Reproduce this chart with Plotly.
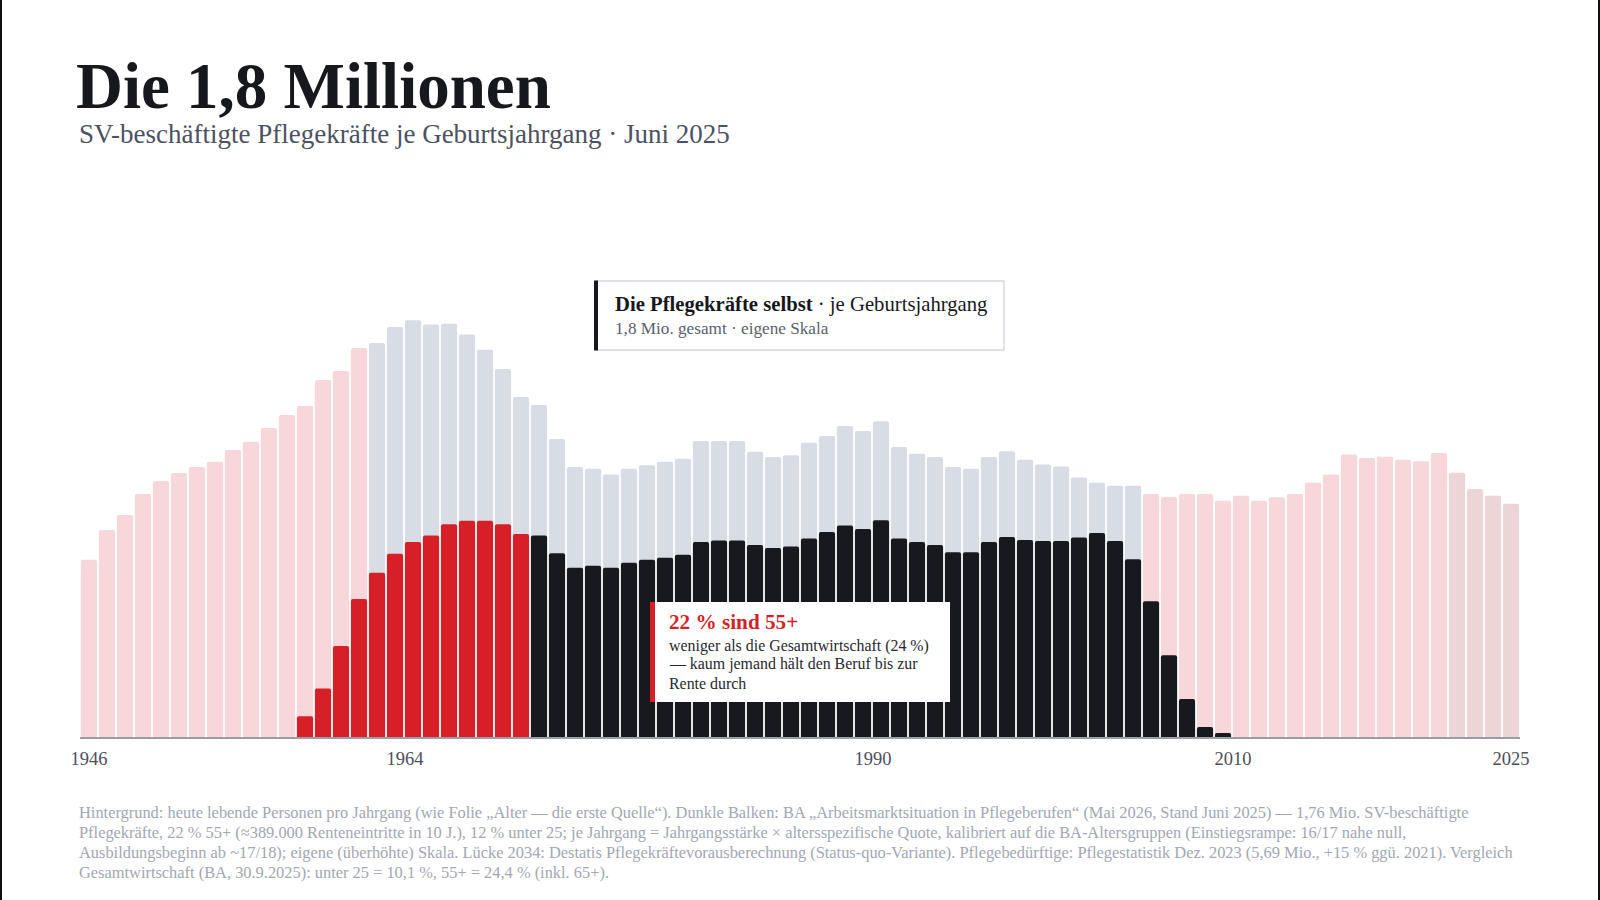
import plotly.graph_objects as go

# ---------------- data ----------------
years = list(range(1946, 2026))
# today living persons per birth cohort (thousands)
population_k = [585, 683, 733, 802, 845, 871, 891, 908, 947, 974,
                1020, 1063, 1092, 1178, 1208, 1284, 1300, 1353, 1375, 1361,
                1364, 1328, 1278, 1214, 1122, 1096, 983, 891, 885, 866,
                885, 897, 908, 918, 977, 977, 977, 941, 924, 930,
                971, 993, 1026, 1010, 1042, 957, 935, 924, 891, 885,
                924, 943, 915, 899, 893, 856, 839, 829, 829, 802,
                792, 802, 802, 780, 796, 780, 791, 802, 839, 866,
                932, 921, 925, 915, 910, 937, 872, 818, 796, 770]
# SV-employed nurses per birth cohort (thousands, own scale)
nurse_years = list(range(1958, 2010))
nurses_k = [4.1, 9.6, 18.0, 27.3, 32.5, 36.3, 38.6, 39.9, 42.1, 42.8,
            42.8, 42.1, 40.2, 39.9, 36.4, 33.5, 33.9, 33.5, 34.5, 35.1,
            35.5, 36.1, 38.6, 38.9, 38.9, 38.0, 37.4, 37.7, 39.3, 40.6,
            41.9, 41.2, 42.9, 39.3, 38.6, 38.0, 36.6, 36.6, 38.6, 39.6,
            39.0, 38.8, 38.8, 39.5, 40.4, 38.8, 35.2, 26.9, 16.2, 7.5,
            2.0, 0.8]
age55_last_year = 1970          # born <= 1970 -> 55+
workforce_band = (1962, 2004)   # highlighted cohorts in background
recent_band_start = 2022
tick_years = [1946, 1964, 1990, 2010, 2025]
tick_labels = ["1946", "1964", "1990", "2010", "2025"]

title = "Die 1,8 Millionen"
subtitle = "SV-beschäftigte Pflegekräfte je Geburtsjahrgang · Juni 2025"
legend_l1 = "<b>Die Pflegekräfte selbst</b> · je Geburtsjahrgang"
legend_l2 = "1,8 Mio. gesamt · eigene Skala"
call_title = "22 % sind 55+"
call_lines = ["weniger als die Gesamtwirtschaft (24 %)",
              "— kaum jemand hält den Beruf bis zur",
              "Rente durch"]
foot_lines = [
    "Hintergrund: heute lebende Personen pro Jahrgang (wie Folie „Alter — die erste Quelle“). Dunkle Balken: BA „Arbeitsmarktsituation in Pflegeberufen“ (Mai 2026, Stand Juni 2025) — 1,76 Mio. SV-beschäftigte",
    "Pflegekräfte, 22 % 55+ (≈389.000 Renteneintritte in 10 J.), 12 % unter 25; je Jahrgang = Jahrgangsstärke × altersspezifische Quote, kalibriert auf die BA-Altersgruppen (Einstiegsrampe: 16/17 nahe null,",
    "Ausbildungsbeginn ab ~17/18); eigene (überhöhte) Skala. Lücke 2034: Destatis Pflegekräftevorausberechnung (Status-quo-Variante). Pflegebedürftige: Pflegestatistik Dez. 2023 (5,69 Mio., +15 % ggü. 2021). Vergleich",
    "Gesamtwirtschaft (BA, 30.9.2025): unter 25 = 10,1 %, 55+ = 24,4 % (inkl. 65+).",
]

# ---------------- style ----------------
FONT = "Liberation Serif, DejaVu Serif, serif"
PINK = "#f7d7da"
GREY = "#d7dce5"
PINK_RECENT = "#ecd5d7"
RED = "#d71f28"
BLACK = "#18191e"
INK = "#16181d"

W, H = 1600, 900
L, R, T, B = 80, 1520, 300, 737
PX_PER_K_BG = 1 / 3.3
PX_PER_K_FG = 1 / 0.198


def px(x):
    return (x - L) / (R - L)


def py(y):
    return (B - y) / (B - T)


bg_colors = []
for yr in years:
    if workforce_band[0] <= yr <= workforce_band[1]:
        bg_colors.append(GREY)
    elif yr >= recent_band_start:
        bg_colors.append(PINK_RECENT)
    else:
        bg_colors.append(PINK)
fg_colors = [RED if yr <= age55_last_year else BLACK for yr in nurse_years]

fig = go.Figure()
fig.add_trace(go.Bar(x=years, y=population_k, marker=dict(color=bg_colors, line=dict(width=0), cornerradius=2),
                     width=0.9, yaxis="y", hoverinfo="x+y", name="Bevölkerung"))
fig.add_trace(go.Bar(x=nurse_years, y=nurses_k, marker=dict(color=fg_colors, line=dict(width=0), cornerradius=2),
                     width=0.9, yaxis="y2", hoverinfo="x+y", name="Pflegekräfte"))

plot_h = B - T
fig.update_layout(
    width=W, height=H,
    margin=dict(l=L, r=W - R, t=T, b=H - B, pad=0),
    paper_bgcolor="white", plot_bgcolor="white",
    barmode="overlay", showlegend=False,
    font=dict(family=FONT, color=INK),
    xaxis=dict(range=[1945.5, 2025.5], showgrid=False, zeroline=False,
               showline=True, linecolor="#9b9ea5", linewidth=1.5,
               tickmode="array",
               tickvals=[tick_years[0]] + [t - 0.45 for t in tick_years[1:-1]] + [tick_years[-1]],
               ticktext=tick_labels, ticks="", ticklabelstandoff=4,
               tickfont=dict(family=FONT, size=18.5, color="#4c505b")),
    yaxis=dict(range=[0, plot_h / PX_PER_K_BG], visible=False, fixedrange=True),
    yaxis2=dict(range=[0, plot_h / PX_PER_K_FG], visible=False, overlaying="y", fixedrange=True),
)

shapes = []
# page frame lines left / right
shapes.append(dict(type="line", xref="paper", yref="paper", x0=px(1), x1=px(1), y0=py(0), y1=py(H),
                   line=dict(color="#111", width=2)))
shapes.append(dict(type="line", xref="paper", yref="paper", x0=px(1599), x1=px(1599), y0=py(0), y1=py(H),
                   line=dict(color="#111", width=2)))
# legend box
shapes.append(dict(type="rect", xref="paper", yref="paper", x0=px(596), x1=px(1004), y0=py(350), y1=py(281),
                   fillcolor="white", line=dict(color="#d4d8df", width=1.5)))
shapes.append(dict(type="rect", xref="paper", yref="paper", x0=px(594), x1=px(598), y0=py(350.5), y1=py(280.5),
                   fillcolor=INK, line=dict(width=0)))
# callout box
shapes.append(dict(type="rect", xref="paper", yref="paper", x0=px(650), x1=px(950), y0=py(702), y1=py(602),
                   fillcolor="white", line=dict(width=0)))
shapes.append(dict(type="rect", xref="paper", yref="paper", x0=px(650), x1=px(655), y0=py(702), y1=py(602),
                   fillcolor=RED, line=dict(width=0)))
fig.update_layout(shapes=shapes)

ann = []


def text(x, y, s, size, color=INK, bold=False):
    ann.append(dict(xref="paper", yref="paper", x=px(x), y=py(y), xanchor="left", yanchor="middle",
                    text=(f"<b>{s}</b>" if bold else s), showarrow=False,
                    font=dict(family=FONT, size=size, color=color)))


text(74, 86, title, 65, INK, True)
text(77, 134, subtitle, 27, "#4c515f")
text(613, 304, legend_l1, 20.7, INK)
text(613, 328, legend_l2, 17.2, "#5a5f6b")
text(667, 622, call_title, 21.2, RED, True)
for i, (yy, s) in enumerate(zip([646, 664, 683], call_lines)):
    text(667, yy, s, 15.9, "#26282e")
for yy, s in zip([812, 832.5, 852, 872.5], foot_lines):
    text(77, yy, s, 16.4, "#a2a7b2")
fig.update_layout(annotations=ann)

fig.write_html("out.html")
